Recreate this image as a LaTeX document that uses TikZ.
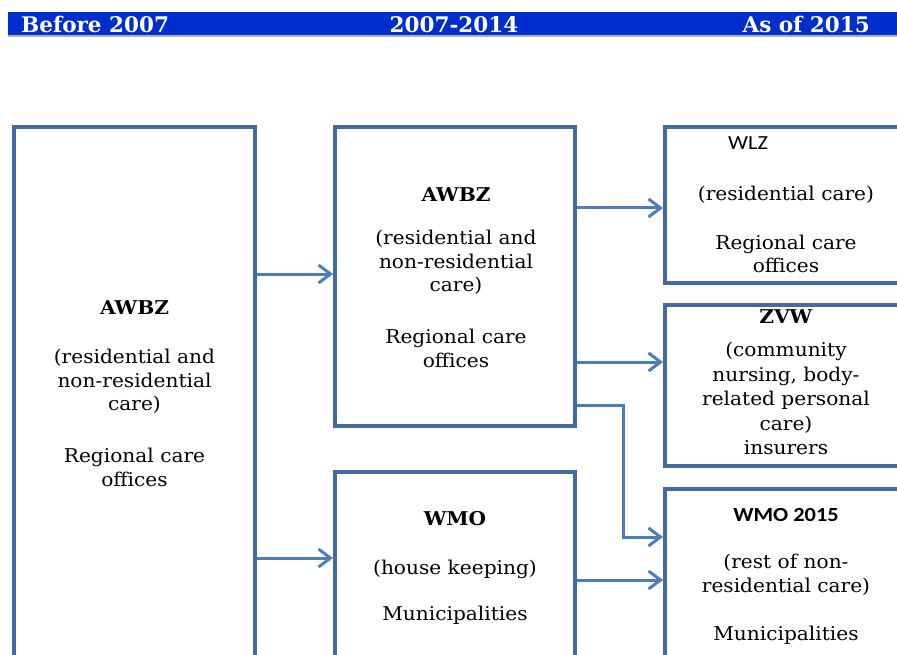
\documentclass[tikz,border=0pt]{standalone}
\usepackage{fontspec}
\setmainfont{DejaVu Serif}[FakeStretch=1.06]
\newfontfamily\sansfnt{Carlito}[FakeStretch=1.12]
\newfontfamily\hdrfnt{DejaVu Serif}
\usetikzlibrary{arrows.meta}
\definecolor{hdrblue}{RGB}{0,45,205}
\definecolor{boxblue}{RGB}{65,106,162}
\definecolor{arrblue}{RGB}{74,126,187}
\begin{document}
\begin{tikzpicture}[x=1pt,y=-1pt,
  box/.style={draw=boxblue, line width=4pt, fill=none, inner sep=0pt, rectangle},
  arr/.style={draw=arrblue, line width=3pt, -{Straight Barb[length=12pt,width=18pt]}},
  txt/.style={align=center, inner sep=0pt, outer sep=0pt, font=\fontsize{19}{23.5}\selectfont, anchor=north},
  hdr/.style={text=white, inner sep=0pt, font=\hdrfnt\bfseries\fontsize{21.5}{24}\selectfont}]
\useasboundingbox (0,0) rectangle (897,655);
\clip (0,0) rectangle (897,655);
\fill[white] (0,0) rectangle (897,655);
% header bar
\fill[hdrblue] (8,12) rectangle (900,35.5);
\fill[gray!60] (8,35.5) rectangle (900,37.5);
\node[hdr, anchor=base west] (h1) at (21,32.5) {Before 2007};
\node[hdr, anchor=base] (h2) at (454,32.5) {2007-2014};
\node[hdr, anchor=base east] (h3) at (870,32.5) {As of 2015};
% boxes
\node[box, minimum width=241pt, minimum height=593pt] (A) at (134.5,423.5) {};
\node[box, minimum width=240pt, minimum height=299pt] (B) at (455,276.5) {};
\node[box, minimum width=260pt, minimum height=156pt] (C) at (795,205) {};
\node[box, minimum width=260pt, minimum height=161pt] (D) at (795,385.5) {};
\node[box, minimum width=260pt, minimum height=231pt] (E) at (795,604.5) {};
\node[box, minimum width=240pt, minimum height=248pt] (F) at (455,596) {};
% texts
\node[txt] (tA) at (134.5,301) {\textbf{AWBZ}\\[25.5pt](residential and\\non-residential\\care)\\[28.5pt]Regional care\\offices};
\node[txt] (tB) at (456,188) {\textbf{AWBZ}\\[19.5pt](residential and\\non-residential\\care)\\[28.5pt]Regional care\\offices};
\node[anchor=base west, inner sep=0pt, font=\sansfnt\fontsize{20}{22}\selectfont] (tC1) at (728,149.5) {WLZ};
\node[txt] (tC) at (786,186) {(residential care)\\[25.5pt]Regional care\\offices};
\node[txt] (tD) at (786,310) {\textbf{ZVW}\\[9.5pt](community\\[1pt]nursing, body-\\[1pt]related personal\\[1pt]care)\\[1pt]insurers};
\node[txt] (tE) at (786,508.5) {{\sansfnt\bfseries\fontsize{20}{22}\selectfont WMO 2015}\\[23.5pt](rest of non-\\residential care)\\[24.5pt]Municipalities};
\node[txt] (tF) at (455,511) {\textbf{WMO}\\[25.5pt](house keeping)\\[22.5pt]Municipalities};
% connector levels
\coordinate (yAB) at (0,274);
\coordinate (yAF) at (0,558);
\coordinate (yBC) at (0,208);
\coordinate (yBD) at (0,362);
\coordinate (yFE) at (0,580);
\coordinate (bend1) at (623,405);
\coordinate (bend2) at (623,537);
% connectors
\draw[arr] (A.east |- yAB) -- (B.west |- yAB);
\draw[arr] (A.east |- yAF) -- (F.west |- yAF);
\draw[arr] (B.east |- yBC) -- (C.west |- yBC);
\draw[arr] (B.east |- yBD) -- (D.west |- yBD);
\draw[arr] (B.east |- bend1) -- (bend1) -- (bend2) -- (E.west |- bend2);
\draw[arr] (F.east |- yFE) -- (E.west |- yFE);
\end{tikzpicture}
\end{document}
